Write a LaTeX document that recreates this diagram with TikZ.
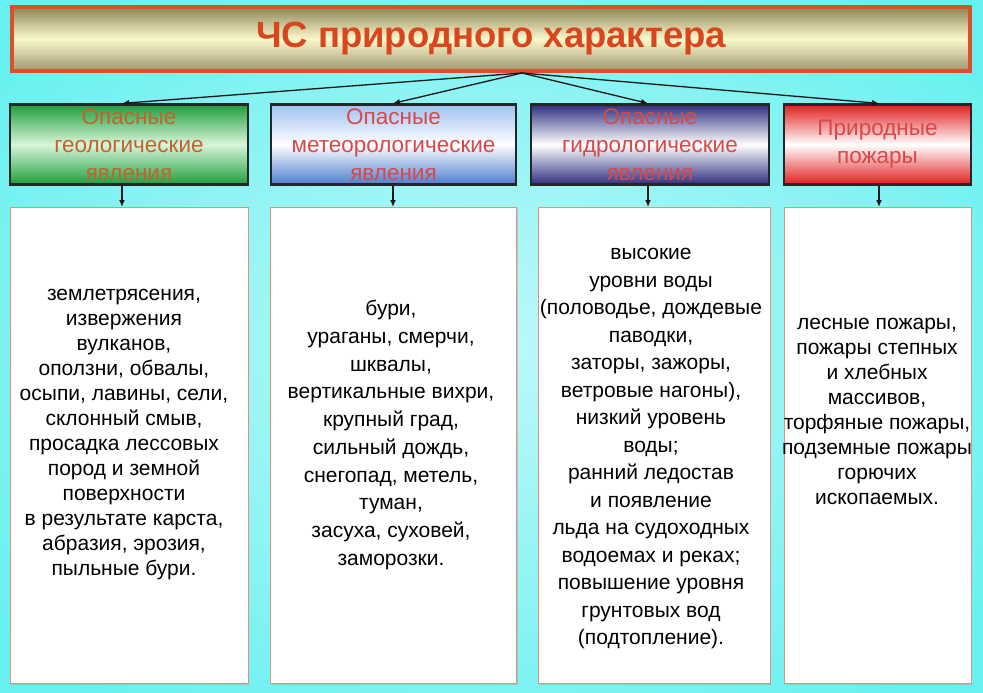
\documentclass[tikz,border=0pt]{standalone}
\usepackage{fontspec}
\setmainfont{Liberation Sans}
\usetikzlibrary{arrows.meta,shadows}
\definecolor{bgout}{HTML}{66F0F0}
\definecolor{bgin}{HTML}{BDF8F8}
\definecolor{titleborder}{HTML}{D9502A}
\definecolor{titletext}{HTML}{D9451C}
\definecolor{oliv}{HTML}{8E8456}
\definecolor{paley}{HTML}{FBF9CC}
\definecolor{hdrtxtA}{HTML}{C4622E}
\definecolor{hdrtxt}{HTML}{D84848}
\definecolor{boxline}{HTML}{E2927A}
\definecolor{gA}{HTML}{1E9E3C}
\definecolor{gB}{HTML}{D8F5DA}
\definecolor{bA}{HTML}{9EC2F0}
\definecolor{bC}{HTML}{4D7DD0}
\definecolor{nA}{HTML}{2E2E80}
\definecolor{rA}{HTML}{E21E1E}
\tikzset{
  hdrbox/.style={draw=black!85, line width=2.2pt, minimum height=80pt, inner sep=0pt,
     font=\fontsize{22.5}{28}\selectfont, align=center},
  contentbox/.style={draw=boxline, line width=1pt, fill=white, inner sep=0pt,
     drop shadow={shadow xshift=1.2pt, shadow yshift=-1.2pt, fill=black!35, opacity=0.5}},
  bodytext/.style={align=center, inner sep=0pt, text=black},
  conn/.style={draw=black!90, line width=1.3pt, -{Latex[length=7pt,width=6pt]}}
}
\begin{document}
\begin{tikzpicture}[x=1pt,y=-1pt]
\useasboundingbox (0,0) rectangle (983,693);
\shade[inner color=bgin, outer color=bgout] (-150,-120) rectangle (1133,813);

% title
\node[draw=titleborder, line width=4pt, minimum width=958pt, minimum height=64pt, inner sep=0pt,
      top color=oliv, bottom color=oliv!85!white, middle color=paley,
      font=\bfseries\fontsize{36.5}{40}\selectfont, text=titletext] (title) at (491,39) {ЧС природного характера};
\coordinate (hub) at (522,73);

% headers
\node[hdrbox, minimum width=238pt, top color=gA, bottom color=gA, middle color=gB, text=hdrtxtA] (h1) at (129,144.5) {Опасные\\геологические\\явления};
\node[hdrbox, minimum width=245pt, top color=bA, bottom color=bC, middle color=white, text=hdrtxt] (h2) at (393.5,144.5) {Опасные\\метеорологические\\явления};
\node[hdrbox, minimum width=238pt, top color=nA, bottom color=nA, middle color=white, text=hdrtxt] (h3) at (650,144.5) {Опасные\\гидрологические\\явления};
\node[hdrbox, minimum width=187pt, top color=rA, bottom color=rA, middle color=white, text=hdrtxt] (h4) at (877.5,144.5) {Природные\\пожары};

% content boxes
\node[contentbox, minimum width=238pt, minimum height=476pt] (c1) at (129,445.5) {};
\node[contentbox, minimum width=246pt, minimum height=476pt] (c2) at (393.5,445.5) {};
\node[contentbox, minimum width=232pt, minimum height=476pt] (c3) at (654,445.5) {};
\node[contentbox, minimum width=187pt, minimum height=476pt] (c4) at (877.5,445.5) {};

% arrow positions
\coordinate (a1) at (122,0);
\coordinate (a2) at (393,0);
\coordinate (a3) at (648,0);
\coordinate (a4) at (879,0);

\draw[conn] (hub) -- (h1.north -| a1);
\draw[conn] (hub) -- (h2.north -| a2);
\draw[conn] (hub) -- (h3.north -| a3);
\draw[conn] (hub) -- (h4.north -| a4);

\draw[conn] (h1.south -| a1) -- (c1.north -| a1);
\draw[conn] (h2.south -| a2) -- (c2.north -| a2);
\draw[conn] (h3.south -| a3) -- (c3.north -| a3);
\draw[conn] (h4.south -| a4) -- (c4.north -| a4);

% texts
\node[bodytext, font=\fontsize{21}{25}\selectfont] (t1) at (124,435) {землетрясения,\\извержения\\вулканов,\\оползни, обвалы,\\осыпи, лавины, сели,\\склонный смыв,\\просадка лессовых\\пород и земной\\поверхности\\в результате карста,\\абразия, эрозия,\\пыльные бури.};
\node[bodytext, font=\fontsize{21}{27.7}\selectfont] (t2) at (391,435) {бури,\\ураганы, смерчи,\\шквалы,\\вертикальные вихри,\\крупный град,\\сильный дождь,\\снегопад, метель,\\туман,\\засуха, суховей,\\заморозки.};
\node[bodytext, font=\fontsize{21}{27.5}\selectfont] (t3) at (651,449) {высокие\\уровни воды\\(половодье, дождевые\\паводки,\\заторы, зажоры,\\ветровые нагоны),\\низкий уровень\\воды;\\ранний ледостав\\и появление\\льда на судоходных\\водоемах и реках;\\повышение уровня\\грунтовых вод\\(подтопление).};
\node[bodytext, font=\fontsize{21}{24.9}\selectfont] (t4) at (877,411.5) {лесные пожары,\\пожары степных\\и хлебных\\массивов,\\торфяные пожары,\\подземные пожары\\горючих\\ископаемых.};
\end{tikzpicture}
\end{document}
